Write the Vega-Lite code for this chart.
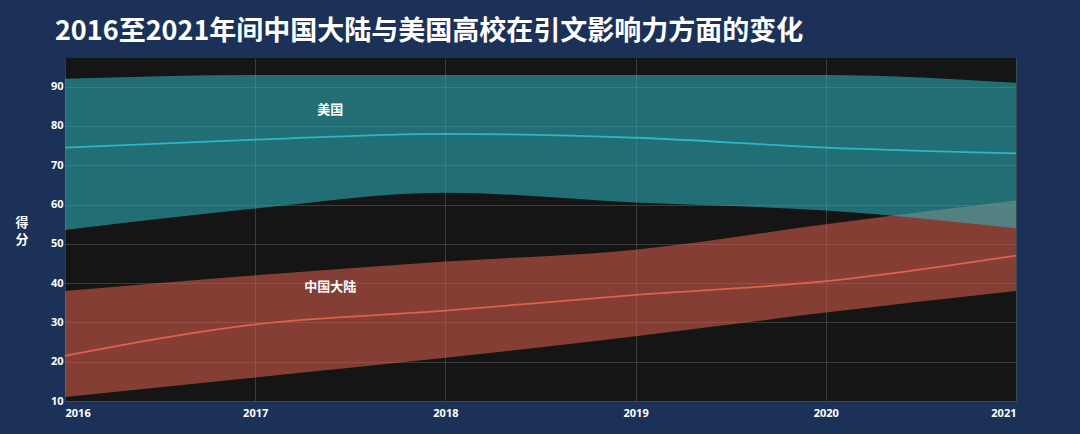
{
  "$schema": "https://vega.github.io/schema/vega-lite/v6.json",
  "autosize": {"type": "fit", "contains": "padding"},
  "width": 1080,
  "height": 434,
  "padding": {"left": 14, "top": 18, "right": 60, "bottom": 16},
  "background": "#1b3158",
  "title": {"text": "2016至2021年间中国大陆与美国高校在引文影响力方面的变化", "color": "white", "fontSize": 27, "font": "Noto Sans CJK SC", "fontWeight": "bold", "anchor": "start", "offset": 12, "dx": 40},
  "config": {
    "view": {"fill": "#151515", "stroke": null},
    "axis": {"labelColor": "white", "labelFont": "Noto Sans", "labelFontSize": 11, "labelFontWeight": "bold", "gridColor": "#555", "gridOpacity": 0.6, "domain": false, "ticks": false}
  },
  "data": {"values": [
    {"year": 2016, "country": "中国大陆", "mean": 21.5, "lo": 11, "hi": 38},
    {"year": 2017, "country": "中国大陆", "mean": 29.5, "lo": 16, "hi": 42},
    {"year": 2018, "country": "中国大陆", "mean": 33, "lo": 21, "hi": 45.5},
    {"year": 2019, "country": "中国大陆", "mean": 37, "lo": 26.5, "hi": 48.5},
    {"year": 2020, "country": "中国大陆", "mean": 40.5, "lo": 32.5, "hi": 55},
    {"year": 2021, "country": "中国大陆", "mean": 47, "lo": 38, "hi": 61},
    {"year": 2016, "country": "美国", "mean": 74.5, "lo": 53.5, "hi": 92},
    {"year": 2017, "country": "美国", "mean": 76.5, "lo": 59, "hi": 93},
    {"year": 2018, "country": "美国", "mean": 78, "lo": 63, "hi": 93},
    {"year": 2019, "country": "美国", "mean": 77, "lo": 60.5, "hi": 93},
    {"year": 2020, "country": "美国", "mean": 74.5, "lo": 58.5, "hi": 93},
    {"year": 2021, "country": "美国", "mean": 73, "lo": 54, "hi": 91}
  ]},
  "transform": [{"calculate": "datum.country == '美国' ? 84 : 39", "as": "label_y"}],
  "encoding": {
    "x": {"field": "year", "type": "quantitative", "scale": {"domain": [2016, 2021], "nice": false}, "axis": {"title": null, "format": "d", "values": [2016, 2017, 2018, 2019, 2020, 2021], "labelPadding": 6}},
    "color": {"field": "country", "type": "nominal", "scale": {"domain": ["中国大陆", "美国"], "range": ["#e0604f", "#2cb8c2"]}, "legend": null}
  },
  "layer": [
    {
      "mark": {"type": "area", "interpolate": "monotone", "opacity": 0.55},
      "encoding": {
        "y": {"field": "hi", "type": "quantitative", "scale": {"domain": [10, 97.3], "nice": false}, "axis": {"title": ["得", "分"], "titleAngle": 0, "titleColor": "white", "titleFont": "Noto Sans CJK SC", "titleFontSize": 13, "titleLineHeight": 17, "titlePadding": 12, "values": [10, 20, 30, 40, 50, 60, 70, 80, 90]}},
        "y2": {"field": "lo"}
      }
    },
    {
      "mark": {"type": "line", "interpolate": "monotone", "strokeWidth": 1.8},
      "encoding": {"y": {"field": "mean", "type": "quantitative"}}
    },
    {
      "transform": [{"filter": "datum.year == 2017"}],
      "mark": {"type": "text", "font": "Noto Sans CJK SC", "fontSize": 13, "fontWeight": "bold", "dx": 75},
      "encoding": {
        "y": {"field": "label_y", "type": "quantitative"},
        "text": {"field": "country"},
        "color": {"value": "white"}
      }
    }
  ]
}
